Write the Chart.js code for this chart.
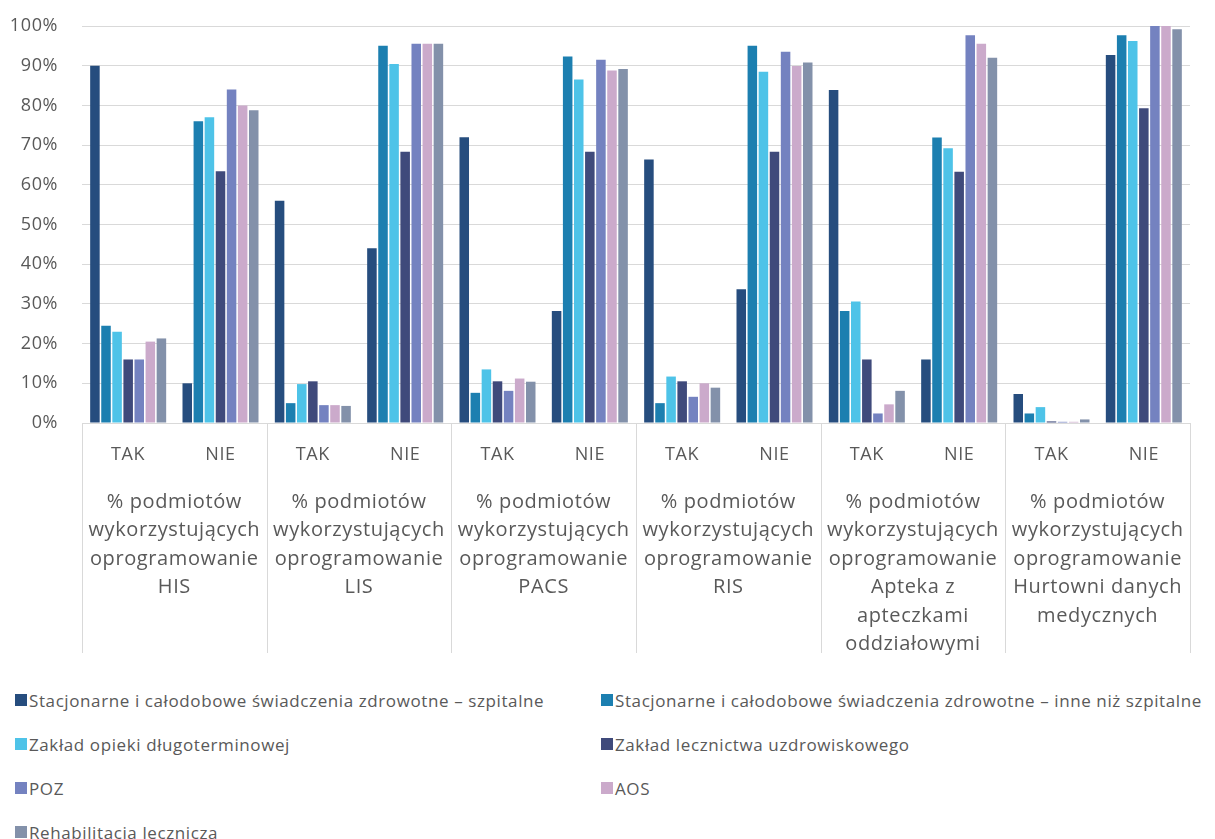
<!DOCTYPE html>
<html>
<head>
<meta charset="utf-8">
<script src="https://cdn.jsdelivr.net/npm/chart.js@4.4.0/dist/chart.umd.min.js"></script>
<style>
    body { margin: 0; background: #fff; }
    #wrap { position: relative; width: 1215px; height: 839px; overflow: hidden; }
    #chart { position: absolute; left: 0; top: 0; }
    #legend {
        position: absolute; left: 0; top: 678px; width: 1215px;
        display: grid; grid-template-columns: 601px 614px;
        font-family: 'Open Sans', sans-serif; font-size: 17px; color: #595959; letter-spacing: 0.6px;
    }
    .item { display: flex; align-items: center; height: 44px; white-space: nowrap; }
    .item.left { padding-left: 15px; }
    .box { width: 12px; height: 12px; margin-right: 2px; flex: none; }
</style>
</head>
<body>
<div id="wrap">
    <canvas id="chart" width="1215" height="660"></canvas>
    <div id="legend"></div>
</div>
<script>
// answers per category
var categories = ['TAK', 'NIE', 'TAK', 'NIE', 'TAK', 'NIE', 'TAK', 'NIE', 'TAK', 'NIE', 'TAK', 'NIE'];

var groupLabels = [
    ['% podmiotów', 'wykorzystujących', 'oprogramowanie', 'HIS'],
    ['% podmiotów', 'wykorzystujących', 'oprogramowanie', 'LIS'],
    ['% podmiotów', 'wykorzystujących', 'oprogramowanie', 'PACS'],
    ['% podmiotów', 'wykorzystujących', 'oprogramowanie', 'RIS'],
    ['% podmiotów', 'wykorzystujących', 'oprogramowanie', 'Apteka z', 'apteczkami', 'oddziałowymi'],
    ['% podmiotów', 'wykorzystujących', 'oprogramowanie', 'Hurtowni danych', 'medycznych']
];

var seriesNames = [
    'Stacjonarne i całodobowe świadczenia zdrowotne – szpitalne',
    'Stacjonarne i całodobowe świadczenia zdrowotne – inne niż szpitalne',
    'Zakład opieki długoterminowej',
    'Zakład lecznictwa uzdrowiskowego',
    'POZ',
    'AOS',
    'Rehabilitacja lecznicza'
];

var seriesColors = ['#264d7e', '#1c7fb0', '#4ec3e8', '#3f4a7b', '#7482c0', '#cbaacb', '#8391aa'];

var szpitalne = [90, 10, 56, 44, 72, 28.2, 66.4, 33.7, 83.9, 16, 7.3, 92.7];
var inneNizSzpitalne = [24.5, 76, 5, 95, 7.6, 92.3, 5, 95, 28.2, 71.9, 2.4, 97.7];
var opiekiDlugoterminowej = [23, 77, 9.8, 90.4, 13.5, 86.5, 11.7, 88.5, 30.6, 69.2, 4, 96.2];
var uzdrowiskowe = [16, 63.4, 10.5, 68.3, 10.5, 68.3, 10.5, 68.3, 16, 63.3, 0.4, 79.3];
var poz = [16, 84, 4.5, 95.5, 8.1, 91.5, 6.6, 93.5, 2.4, 97.7, 0.3, 100];
var aos = [20.5, 80, 4.5, 95.5, 11.2, 88.8, 10, 89.9, 4.7, 95.5, 0.3, 100];
var rehabilitacja = [21.3, 78.8, 4.3, 95.5, 10.4, 89.2, 8.9, 90.8, 8.1, 92, 0.9, 99.2];

var seriesValues = [szpitalne, inneNizSzpitalne, opiekiDlugoterminowej, uzdrowiskowe, poz, aos, rehabilitacja];

var yTicks = [0, 10, 20, 30, 40, 50, 60, 70, 80, 90, 100];

var textColor = '#595959';
var lineColor = '#d9d9d9';

// vertical lines between the software groups, below the axis
var groupLines = {
    id: 'groupLines',
    afterDraw: function (chart) {
        var ctx = chart.ctx;
        var x = chart.scales.x;
        ctx.save();
        ctx.strokeStyle = lineColor;
        ctx.lineWidth = 1;
        for (var i = 0; i <= groupLabels.length; i++) {
            var px = Math.round(x.getPixelForValue(i * 2 - 0.5)) + 0.5;
            ctx.beginPath();
            ctx.moveTo(px, chart.chartArea.bottom);
            ctx.lineTo(px, chart.scales.x2.bottom - 7);
            ctx.stroke();
        }
        ctx.restore();
    }
};

// the original text looks slightly spaced out
var spacing = {
    id: 'spacing',
    afterInit: function (chart) {
        chart.ctx.letterSpacing = '0.6px';
    },
    beforeDraw: function (chart) {
        chart.ctx.letterSpacing = '0.6px';
    }
};

var datasets = seriesNames.map(function (name, i) {
    return {
        label: name,
        data: seriesValues[i],
        backgroundColor: seriesColors[i],
        borderWidth: 0
    };
});

var ctx = document.getElementById('chart').getContext('2d');
var myChart = new Chart(ctx, {
    type: 'bar',
    data: {
        labels: categories,
        datasets: datasets
    },
    plugins: [groupLines, spacing],
    options: {
        responsive: false,
        animation: false,
        layout: { padding: { top: 26, right: 25, left: 0, bottom: 0 } },
        datasets: { bar: { categoryPercentage: 0.84, barPercentage: 0.86 } },
        plugins: {
            legend: { display: false },
            tooltip: { enabled: false }
        },
        scales: {
            y: {
                min: 0,
                max: 100,
                afterBuildTicks: function (scale) {
                    scale.ticks = yTicks.map(function (v) { return { value: v }; });
                },
                ticks: {
                    callback: function (value) { return value + '%'; },
                    padding: 24,
                    color: textColor,
                    font: { family: 'Open Sans', size: 18 }
                },
                grid: { color: lineColor, drawTicks: false },
                border: { display: false },
                afterFit: function (scale) {
                    scale.width = 82;
                    scale.paddingTop = 0;
                    scale.paddingBottom = 0;
                }
            },
            x: {
                grid: { display: false },
                border: { color: lineColor },
                ticks: {
                    padding: 13,
                    color: textColor,
                    maxRotation: 0,
                    autoSkip: false,
                    font: { family: 'Open Sans', size: 18 }
                },
                afterFit: function (scale) { scale.height = 50; }
            },
            x2: {
                type: 'category',
                labels: groupLabels,
                offset: true,
                position: 'bottom',
                weight: 1,
                grid: { display: false },
                border: { display: false },
                ticks: {
                    padding: 7,
                    color: textColor,
                    maxRotation: 0,
                    autoSkip: false,
                    font: { family: 'Open Sans', size: 20, lineHeight: 1.42 }
                },
                afterFit: function (scale) { scale.height = 187; }
            }
        }
    }
});

// legend in two columns, as in the original
var legend = document.getElementById('legend');
myChart.data.datasets.forEach(function (ds, i) {
    var item = document.createElement('div');
    item.className = 'item' + (i % 2 === 0 ? ' left' : '');
    var box = document.createElement('span');
    box.className = 'box';
    box.style.background = ds.backgroundColor;
    item.appendChild(box);
    item.appendChild(document.createTextNode(ds.label));
    legend.appendChild(item);
});
</script>
</body>
</html>
